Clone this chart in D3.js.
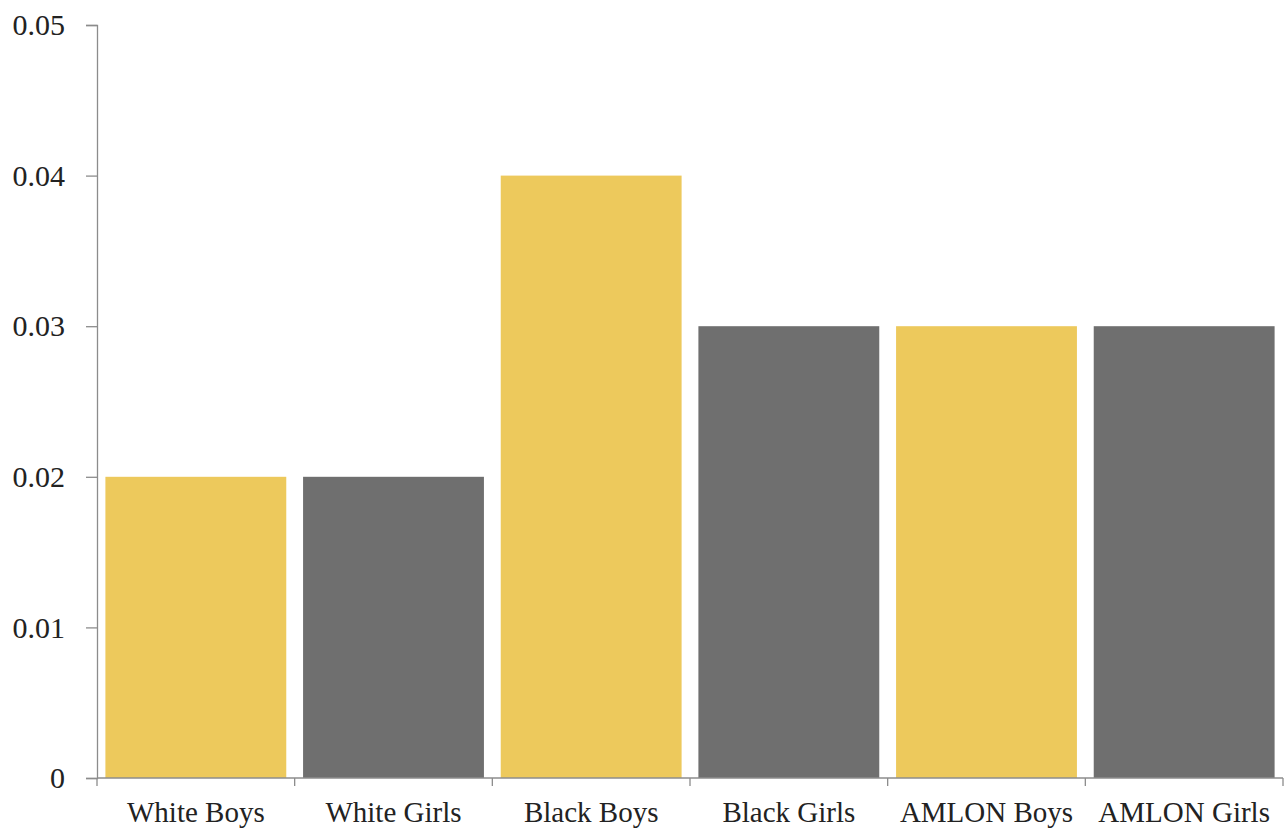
<!DOCTYPE html>
<html><head><meta charset="utf-8">
<script src="https://cdn.jsdelivr.net/npm/d3@7/dist/d3.min.js"></script>
<style>body{margin:0;background:#fff}svg{display:block}</style>
</head><body><svg id="c" width="1287" height="828"></svg>
<script>
const categories = ["White Boys","White Girls","Black Boys","Black Girls","AMLON Boys","AMLON Girls"];
const values = [0.02,0.02,0.04,0.03,0.03,0.03];
const groups = ["boys","girls","boys","girls","boys","girls"];
const yTicks = [0,0.01,0.02,0.03,0.04,0.05];
const tickLabels = ["0","0.01","0.02","0.03","0.04","0.05"];

const colors = {boys:"#EDC95C", girls:"#6F6F6F"};
const m = {left:97, right:4, top:25, bottom:50};
const W = 1287, H = 828;
const svg = d3.select("#c");
const x = d3.scaleBand().domain(categories).range([m.left, W-m.right]).paddingInner(0.085).paddingOuter(0.0425);
const y = d3.scaleLinear().domain([0,0.05]).range([H-m.bottom, m.top]);

svg.append("g").selectAll("rect").data(categories).join("rect")
  .attr("x", d=>x(d)).attr("width", x.bandwidth())
  .attr("y", (d,i)=>y(values[i])).attr("height",(d,i)=>y(0)-y(values[i]))
  .attr("fill",(d,i)=>colors[groups[i]]);

const axisColor = "#8c8c8c";
const ya = svg.append("g").attr("transform",`translate(${m.left},0)`)
  .call(d3.axisLeft(y).tickValues(yTicks).tickFormat((d,i)=>tickLabels[i]).tickSize(11).tickPadding(21));
ya.select(".domain").attr("stroke",axisColor).attr("stroke-width",1.3);
ya.selectAll(".tick line").attr("stroke",axisColor).attr("stroke-width",1.3);
ya.selectAll(".tick text").attr("font-family","'Liberation Serif', serif").attr("font-size",30).attr("fill","#222");

// x axis with ticks at band boundaries
const xa = svg.append("g").attr("transform",`translate(0,${y(0)})`);
xa.append("line").attr("x1",m.left).attr("x2",W-m.right).attr("stroke",axisColor).attr("stroke-width",1.3);
const bounds = categories.map(c=>x(c)-x.step()*x.paddingInner()/2).concat([W-m.right]);
xa.selectAll("line.tk").data(bounds).join("line").attr("class","tk")
  .attr("x1",d=>d).attr("x2",d=>d).attr("y1",0).attr("y2",8).attr("stroke",axisColor).attr("stroke-width",1.3);
xa.selectAll("text").data(categories).join("text")
  .attr("x",d=>x(d)+x.bandwidth()/2).attr("y",44).attr("text-anchor","middle")
  .attr("font-family","'Liberation Serif', serif").attr("font-size",29).attr("fill","#222").text(d=>d);
</script></body></html>
